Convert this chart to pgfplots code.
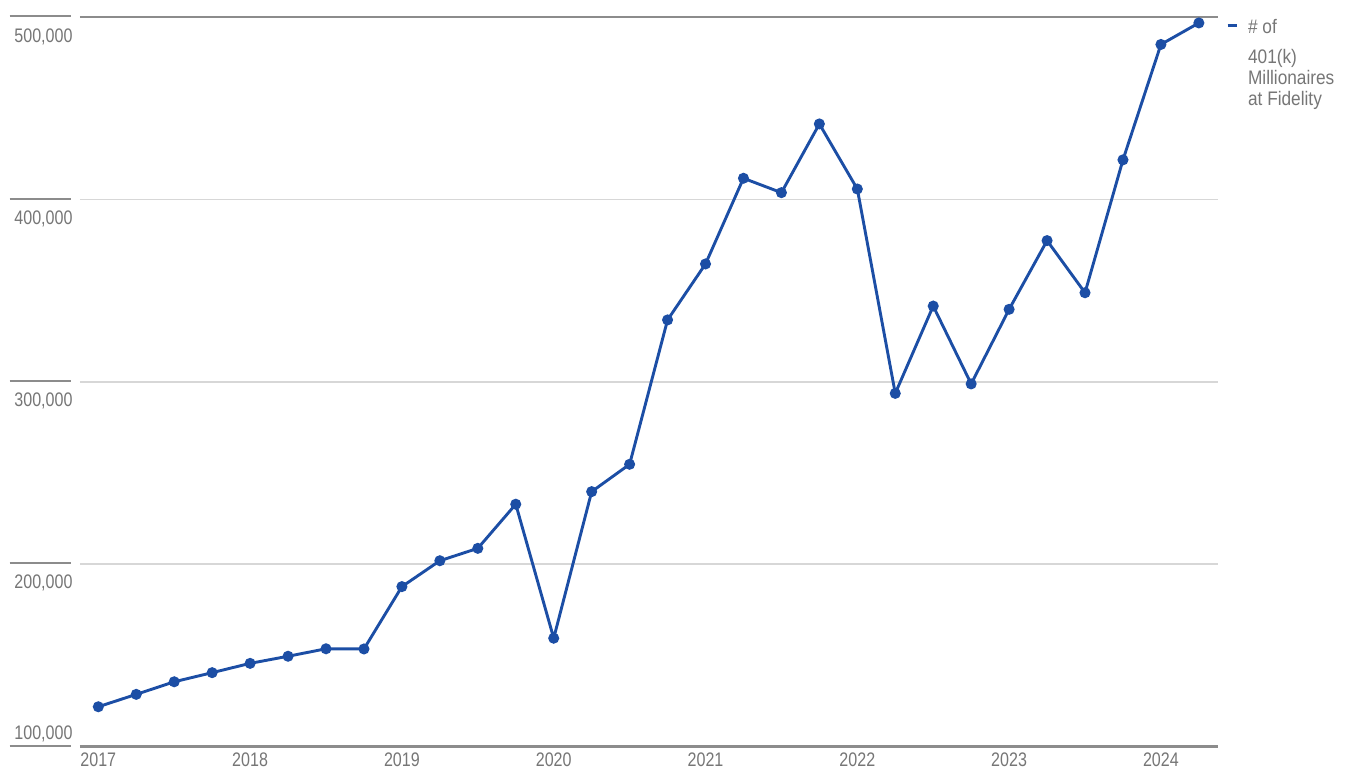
\documentclass[border=0pt]{standalone}
\usepackage{fontspec}
\setmainfont{Liberation Sans}[FakeStretch=0.82]
\newfontfamily\legfont{Liberation Sans}[FakeStretch=0.88]
\usepackage{pgfplots}
\pgfplotsset{compat=1.18}
\definecolor{lineblue}{RGB}{28,78,165}
\definecolor{txtgray}{RGB}{118,118,118}
\definecolor{axgray}{RGB}{140,140,140}
\definecolor{gridgray}{RGB}{215,215,215}
\begin{document}
\begin{tikzpicture}
\begin{axis}[name=ax, at={(0,0)}, anchor=south west, scale only axis,
 width=569pt, height=364.6pt,
 xmin=2016.8794, xmax=2024.376, ymin=100000, ymax=500000,
 xtick={2017,2018,2019,2020,2021,2022,2023,2024},
 ytick={200000,300000,400000,500000},
 extra y ticks={100000},
 extra y tick labels={{\smash{\makebox[0pt][l]{\hspace*{-2.35pt}\raisebox{-3.85pt}{\color{axgray}\rule{30.7pt}{1pt}}}}100{,}000}},
 extra y tick style={grid=none, yticklabel style={anchor=base west, yshift=8.7pt}},
 scaled y ticks=false,
 separate axis lines,
 x axis line style={draw=axgray, line width=1.1pt},
 y axis line style={draw=none},
 ymajorgrids, grid style={draw=gridgray, line width=0.75pt},
 major tick length=0,
 tick label style={font=\fontsize{9.8}{11}\selectfont, text=txtgray, inner sep=0pt},
 /pgf/number format/assume math mode=true,
 xticklabel style={anchor=north, yshift=-3.1pt, /pgf/number format/1000 sep={}},
 yticklabel style={anchor=north west, xshift=-33pt, yshift=-5.35pt},
 yticklabel={\smash{\makebox[0pt][l]{\hspace*{-2.35pt}\raisebox{12.35pt}{\color{axgray}\rule{30.7pt}{1pt}}}}\pgfmathprintnumber[fixed,precision=0,1000 sep={,}]{\tick}},
 clip=false,
]
\addplot[lineblue, line width=1.45pt, mark=*, mark size=2pt] coordinates {
(2017.00,121800) (2017.25,128600) (2017.50,135500) (2017.75,140500)
(2018.00,145600) (2018.25,149500) (2018.50,153600) (2018.75,153500)
(2019.00,187700) (2019.25,201900) (2019.50,208700) (2019.75,232900)
(2020.00,159400) (2020.25,239800) (2020.50,254800) (2020.75,334000)
(2021.00,364700) (2021.25,411700) (2021.50,403800) (2021.75,441500)
(2022.00,405800) (2022.25,293700) (2022.50,341600) (2022.75,298900)
(2023.00,339800) (2023.25,377500) (2023.50,348900) (2023.75,421800)
(2024.00,485100) (2024.25,496900)
};
\end{axis}
\draw[lineblue, line width=1.6pt] ([xshift=4.85pt,yshift=-4.2pt]ax.north east) -- ++(4.8pt,0);
\node[anchor=north west, inner sep=0pt, align=left, text=txtgray, font=\legfont\fontsize{9.8}{10.5}\selectfont] at ([xshift=14.85pt,yshift=-0.9pt]ax.north east) {\# of\\[4.5pt]401(k)\\Millionaires\\at Fidelity};
\pgfresetboundingbox
\path[use as bounding box] ([xshift=-40pt,yshift=-11.25pt]ax.south west) rectangle ([xshift=64.5pt,yshift=8.65pt]ax.north east);
\end{tikzpicture}
\end{document}
